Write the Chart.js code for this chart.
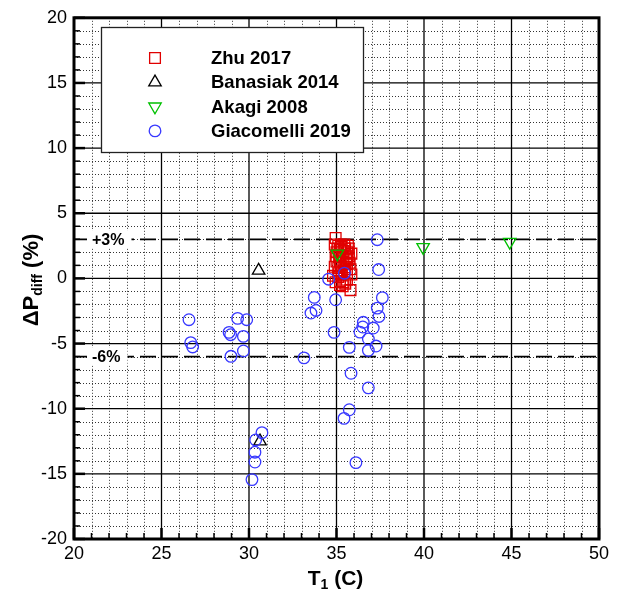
<!DOCTYPE html>
<html lang="en">
<head>
<meta charset="UTF-8">
<title>Delta P diff vs T1</title>
<script src="https://cdn.jsdelivr.net/npm/chart.js"></script>
<style>
  html, body { margin: 0; padding: 0; background: #fff; }
</style>
</head>
<body>
<canvas id="chart" width="621" height="591"></canvas>
<script>
// T1 (C) and dP_diff (%) per source
const zhuT  = [34.95, 34.9, 35.1, 35.3, 35.5, 35.6, 35.4, 35.2, 35.0, 34.95, 35.15, 35.35, 35.55, 35.7,
               35.0, 35.2, 35.4, 35.6, 34.9, 35.1, 35.5, 35.3, 34.8, 35.1, 35.3, 35.85, 35.2, 34.95, 35.4, 35.35, 35.8,
               35.7, 35.85, 35.75, 35.6, 35.8, 35.45, 35.65, 35.25, 35.45, 35.15, 35.55, 35.05, 35.25, 35.7, 35.2, 35.5, 35.6];
const zhuDP = [3.1, 2.6, 2.5, 2.4, 2.3, 2.0, 2.1, 2.2, 2.0, 1.7, 1.8, 1.7, 1.6, 1.5,
               1.3, 1.3, 1.2, 1.1, 0.9, 0.8, 0.85, 0.6, 0.2, 0.1, 0.3, 0.3, -0.2, -0.3, -0.3, -0.6, -0.9,
               2.3, 1.9, 1.2, 0.7, 0.7, 2.6, 2.5, 1.0, 0.5, 0.4, 1.4, 2.3, 2.6, 1.7, -0.5, -0.4, -0.1];

const banasiakT  = [30.55, 30.63];
const banasiakDP = [0.6, -12.5];

const akagiT  = [35.05, 39.95, 44.9];
const akagiDP = [1.9, 2.4, 2.8];

const giacT  = [26.57, 26.67, 26.78, 28.86, 28.95, 29.35, 29.87, 29.68, 29.68, 28.97,
                30.74, 30.38, 30.34, 30.34, 30.17,
                33.14, 33.54, 33.83, 33.73, 34.55, 35.45, 34.95, 34.86,
                37.33, 37.41, 37.62, 37.33, 37.43,
                36.53, 36.5, 36.34, 37.1, 36.82, 37.26, 36.82, 35.73,
                35.83, 36.82, 35.73, 35.43, 36.11];
const giacDP = [-3.17, -4.93, -5.26, -4.14, -4.32, -3.07, -3.17, -4.45, -5.57, -5.98,
                -11.84, -12.4, -13.34, -14.09, -15.44,
                -6.1, -2.66, -2.46, -1.46, -0.06, 0.4, -1.64, -4.14,
                2.97, 0.68, -1.48, -2.28, -2.92,
                -3.37, -3.73, -4.12, -3.81, -4.65, -5.19, -5.52, -5.29,
                -7.28, -8.4, -10.08, -10.74, -14.14];

const refLines = [3, -6];
const refLabels = ['+3%', '-6%'];

const xTicks = [20, 25, 30, 35, 40, 45, 50];
const yTicks = [-20, -15, -10, -5, 0, 5, 10, 15, 20];

const FONT = "'Liberation Sans', Arial, sans-serif";

function pts(xs, ys) {
  return xs.map((x, i) => ({ x: x, y: ys[i] }));
}

// order: lower number is drawn on top
const series = [
  { label: 'Zhu 2017', data: pts(zhuT, zhuDP), color: '#e00000', style: 'rect', radius: 7.6, rotation: 0, order: 3 },
  { label: 'Banasiak 2014', data: pts(banasiakT, banasiakDP), color: '#000000', style: 'triangle', radius: 7.2, rotation: 0, order: 2 },
  { label: 'Akagi 2008', data: pts(akagiT, akagiDP), color: '#00c000', style: 'triangle', radius: 7.2, rotation: 180, order: 0 },
  { label: 'Giacomelli 2019', data: pts(giacT, giacDP), color: '#3838ff', style: 'circle', radius: 5.8, rotation: 0, order: 1 }
];

// grid, frame, inward ticks and reference lines
const plotDecor = {
  id: 'plotDecor',
  beforeDatasetsDraw(chart) {
    const { ctx, chartArea: a, scales: { x, y } } = chart;
    ctx.save();
    // minor dotted grid
    ctx.strokeStyle = '#333';
    ctx.lineWidth = 1;
    ctx.setLineDash([1, 2]);
    for (let v = 21; v < 50; v++) {
      if (v % 5 === 0) continue;
      const px = Math.round(x.getPixelForValue(v)) + 0.5;
      ctx.beginPath(); ctx.moveTo(px, a.top); ctx.lineTo(px, a.bottom); ctx.stroke();
    }
    for (let v = -19; v < 20; v++) {
      if (v % 5 === 0) continue;
      const py = Math.round(y.getPixelForValue(v)) + 0.5;
      ctx.beginPath(); ctx.moveTo(a.left, py); ctx.lineTo(a.right, py); ctx.stroke();
    }
    // major grid
    ctx.setLineDash([]);
    ctx.strokeStyle = '#000';
    ctx.lineWidth = 1.3;
    xTicks.forEach(v => {
      const px = x.getPixelForValue(v);
      ctx.beginPath(); ctx.moveTo(px, a.top); ctx.lineTo(px, a.bottom); ctx.stroke();
    });
    yTicks.forEach(v => {
      const py = y.getPixelForValue(v);
      ctx.beginPath(); ctx.moveTo(a.left, py); ctx.lineTo(a.right, py); ctx.stroke();
    });
    // inward ticks on left and bottom
    for (let v = 20; v <= 50; v++) {
      const px = x.getPixelForValue(v);
      const major = v % 5 === 0;
      ctx.lineWidth = major ? 2.5 : 1.5;
      ctx.beginPath(); ctx.moveTo(px, a.bottom); ctx.lineTo(px, a.bottom - (major ? 11 : 6)); ctx.stroke();
    }
    for (let v = -20; v <= 20; v++) {
      const py = y.getPixelForValue(v);
      const major = v % 5 === 0;
      ctx.lineWidth = major ? 2.5 : 1.5;
      ctx.beginPath(); ctx.moveTo(a.left, py); ctx.lineTo(a.left + (major ? 11 : 6), py); ctx.stroke();
    }
    // reference lines
    refLines.forEach((v, i) => {
      const py = y.getPixelForValue(v);
      ctx.lineWidth = 1.8;
      ctx.setLineDash([16, 6]);
      ctx.beginPath(); ctx.moveTo(a.left, py); ctx.lineTo(a.right, py); ctx.stroke();
      ctx.setLineDash([]);
      ctx.font = 'bold 16px ' + FONT;
      const w = ctx.measureText(refLabels[i]).width;
      ctx.fillStyle = '#fff';
      ctx.fillRect(a.left + 13, py - 9, w + 12, 18);
      ctx.fillStyle = '#000';
      ctx.textAlign = 'left';
      ctx.textBaseline = 'middle';
      ctx.fillText(refLabels[i], a.left + 18, py + 1);
    });
    // frame
    ctx.lineWidth = 3;
    ctx.strokeRect(a.left, a.top, a.right - a.left, a.bottom - a.top);
    ctx.restore();
  },
  afterDatasetsDraw(chart) {
    const { ctx, chartArea: a } = chart;
    ctx.save();
    // legend box
    const bx = 101, by = 27, bw = 262, bh = 125;
    ctx.fillStyle = '#fff';
    ctx.fillRect(bx, by, bw, bh);
    ctx.strokeStyle = '#222';
    ctx.lineWidth = 1.3;
    ctx.strokeRect(bx + 0.5, by + 0.5, bw, bh);
    ctx.font = 'bold 18.5px ' + FONT;
    ctx.textAlign = 'left';
    ctx.textBaseline = 'middle';
    series.forEach((s, i) => {
      const ry = 58 + i * 24.3;
      ctx.strokeStyle = s.color;
      ctx.fillStyle = 'rgba(0,0,0,0)';
      Chart.helpers.drawPoint(ctx, { pointStyle: s.style, radius: s.radius, rotation: s.rotation, borderWidth: 1.3 }, 155, ry);
      ctx.fillStyle = '#000';
      ctx.fillText(s.label, 211, ry + 1);
    });
    // y axis title: ΔP_diff (%)
    ctx.translate(31, 280);
    ctx.rotate(-Math.PI / 2);
    ctx.fillStyle = '#000';
    ctx.textBaseline = 'alphabetic';
    const big = 'bold 22px ' + FONT, small = 'bold 14px ' + FONT;
    ctx.font = big; const w1 = ctx.measureText('\u0394P').width;
    ctx.font = small; const w2 = ctx.measureText('diff').width;
    ctx.font = big; const w3 = ctx.measureText(' (%)').width;
    let sx = -(w1 + w2 + w3) / 2;
    ctx.font = big; ctx.fillText('\u0394P', sx, 7); sx += w1;
    ctx.font = small; ctx.fillText('diff', sx, 11); sx += w2;
    ctx.font = big; ctx.fillText(' (%)', sx, 7);
    ctx.setTransform(1, 0, 0, 1, 0, 0);
    // x axis title: T_1 (C)
    const xt = 'bold 21px ' + FONT;
    const cx = (a.left + a.right) / 2 - 1;
    ctx.font = xt; const t1 = ctx.measureText('T').width;
    ctx.font = small; const t2 = ctx.measureText('1').width;
    ctx.font = xt; const t3 = ctx.measureText(' (C)').width;
    let tx = cx - (t1 + t2 + t3) / 2;
    ctx.font = xt; ctx.fillText('T', tx, 585); tx += t1;
    ctx.font = small; ctx.fillText('1', tx, 589); tx += t2;
    ctx.font = xt; ctx.fillText(' (C)', tx, 585);
    ctx.restore();
  }
};

new Chart(document.getElementById('chart').getContext('2d'), {
  type: 'scatter',
  data: {
    datasets: series.map(s => ({
      label: s.label,
      data: s.data,
      order: s.order,
      pointStyle: s.style,
      pointRadius: s.radius,
      pointRotation: s.rotation,
      pointBorderColor: s.color,
      pointBackgroundColor: 'rgba(0,0,0,0)',
      pointBorderWidth: 1.3,
      showLine: false
    }))
  },
  options: {
    responsive: false,
    animation: false,
    devicePixelRatio: 1,
    layout: { padding: { top: 16, right: 22, left: 0, bottom: 0 } },
    plugins: { legend: { display: false }, tooltip: { enabled: false } },
    scales: {
      x: {
        type: 'linear', min: 20, max: 50,
        afterBuildTicks: s => { s.ticks = xTicks.map(v => ({ value: v })); },
        ticks: { color: '#000', font: { family: FONT, size: 18 }, padding: 4, maxRotation: 0 },
        grid: { display: false, drawTicks: false },
        border: { display: false },
        afterFit: s => { s.height = 52; }
      },
      y: {
        type: 'linear', min: -20, max: 20,
        afterBuildTicks: s => { s.ticks = yTicks.map(v => ({ value: v })); },
        ticks: { color: '#000', font: { family: FONT, size: 18 }, padding: 7 },
        grid: { display: false, drawTicks: false },
        border: { display: false },
        afterFit: s => { s.width = 74; }
      }
    }
  },
  plugins: [plotDecor]
});
</script>
</body>
</html>
